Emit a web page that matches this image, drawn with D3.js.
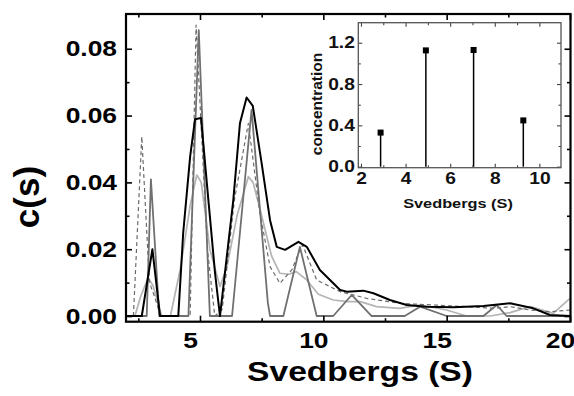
<!DOCTYPE html>
<html><head><meta charset="utf-8">
<script src="https://cdn.jsdelivr.net/npm/d3@7"></script>
<style>
html,body{margin:0;padding:0;background:#fff;}
text{font-family:"Liberation Sans",Arial,sans-serif;font-weight:bold;}
</style></head>
<body>
<svg id="c" width="574" height="396"></svg>
<script>
// ---------- data ----------
const xTicks = [5, 10, 15, 20];
const xMinor = [2.5, 7.5, 12.5, 17.5];
const yTicks = [0, 0.02, 0.04, 0.06, 0.08];
const yMinor = [0.01, 0.03, 0.05, 0.07];

const sBlack = [2.0,2.64,3.07,3.38,4.12,4.32,4.6,4.8,5.04,5.34,5.61,5.81,6.35,6.62,6.89,7.14,7.5,7.84,8.11,8.45,8.99,9.33,9.86,10.68,10.95,11.62,12.03,12.7,13.38,14.19,15.27,16.49,17.57,18.51,19.19,20.0];
const cBlack = [0,0,0.020,0,0,0.025,0.0477,0.0589,0.0593,0.0347,0.0128,0,0.0347,0.0577,0.0654,0.0629,0.0457,0.0287,0.0207,0.0198,0.0222,0.0207,0.0138,0.0078,0.0073,0.0076,0.0068,0.0048,0.0033,0.0028,0.0026,0.0030,0.0038,0.0023,0.0003,0];

const sDark = [2.0,2.84,3.01,3.35,4.53,4.95,5.4,6.3,7.09,7.75,7.84,8.38,9.05,9.73,10.4,11.15,11.96,13.3,13.92,15.0,16.49,17.03,17.43,20.0];
const cDark = [0,0,0.0409,0,0,0.0856,0,0,0.0617,0.004,0,0,0.0207,0,0,0.0063,0,0,0.0028,0,0,0.0033,0,0];

const sLight = [2.36,2.6,2.9,3.1,3.45,3.8,4.2,4.6,4.87,5.05,5.4,5.81,6.1,6.5,6.96,7.15,7.5,7.9,8.24,8.6,8.9,9.3,9.8,10.4,11.0,11.5,12.16,13.1,13.9,15.0,15.8,16.76,17.57,18.38,19.32,20.0];
const cLight = [0,0.006,0.0115,0.009,0,0,0.014,0.033,0.0422,0.040,0.020,0.0088,0.015,0.030,0.0417,0.040,0.030,0.018,0.0128,0.0125,0.0133,0.011,0.0065,0.0048,0.0043,0.0043,0.0028,0.0023,0.0033,0.0018,0,0,0.001,0.0028,0.0008,0.0053];

const sDash = [2.3,2.64,2.95,3.15,3.4,4.6,4.84,5.3,5.6,5.9,6.4,6.96,7.43,7.84,8.24,8.72,9.05,9.16,9.73,10.68,11.76,13.1,14.46,15.81,16.89,17.57,18.38,19.19,20.0];
const cDash = [0,0.0537,0.010,0.006,0,0,0.0871,0.020,0,0.002,0.035,0.0577,0.0307,0.0148,0.0098,0.0138,0.0198,0.0213,0.0108,0.0073,0.0053,0.0038,0.0033,0.0028,0.0023,0.0028,0.0018,0.0013,0.0018];

// inset
const insetS = [2.88, 4.91, 7.05, 9.28];
const insetC = [0.33, 1.126, 1.13, 0.448];
const insetXTicks = [2, 4, 6, 8, 10];
const insetXMinor = [3, 5, 7, 9];
const insetYTicks = [0, 0.4, 0.8, 1.2];
const insetYMinor = [0.2, 0.6, 1.0];

// ---------- drawing ----------
const SX = 1.2; // horizontal stretch of the lettering
const svg = d3.select("#c");
const x = d3.scaleLinear().domain([2, 20]).range([126, 570]);
const y = d3.scaleLinear().domain([-0.0017, 0.0904]).range([321.7, 14]);

svg.append("defs").append("clipPath").attr("id", "clipMain")
  .append("rect").attr("x", 126).attr("y", 14).attr("width", 445).attr("height", 307.7);

const series = [
  {s: sLight, c: cLight, color: "#b4b4b4", w: 1.7, dash: null},
  {s: sDash, c: cDash, color: "#6a6a6a", w: 1.2, dash: "4,3"},
  {s: sDark, c: cDark, color: "#707070", w: 1.8, dash: null},
  {s: sBlack, c: cBlack, color: "#000", w: 2.0, dash: null}
];
const line = d3.line().x(d => x(d[0])).y(d => y(d[1]));
const lg = svg.append("g").attr("clip-path", "url(#clipMain)");
series.forEach(se => {
  lg.append("path")
    .datum(se.s.map((v, i) => [v, se.c[i]]))
    .attr("d", line)
    .attr("fill", "none")
    .attr("stroke", se.color)
    .attr("stroke-width", se.w)
    .attr("stroke-linejoin", "round")
    .attr("stroke-dasharray", se.dash);
});

function tickAxis(axisFn, scale, vals, size, trans, labels, pad, col, sw) {
  const a = axisFn(scale).tickValues(vals).tickSize(size).tickPadding(pad || 3);
  if (!labels) a.tickFormat("");
  const g = svg.append("g").attr("transform", trans).call(a);
  g.select(".domain").remove();
  g.selectAll("line").attr("stroke", col || "#000").attr("stroke-width", sw || 1.6);
  return g;
}
// main axes
const gb = tickAxis(d3.axisBottom, x, xTicks, -6, "translate(0,321.7)", true, 11);
gb.selectAll("text").attr("font-size", 22).attr("fill", "#000")
  .attr("font-family", "Liberation Sans").attr("font-weight", "bold")
  .attr("dx", -10 / SX).attr("transform", `scale(${SX},1)`);
tickAxis(d3.axisBottom, x, xMinor, -3.5, "translate(0,321.7)", false);
tickAxis(d3.axisTop, x, xTicks, -6, "translate(0,14)", false);
tickAxis(d3.axisTop, x, xMinor, -3.5, "translate(0,14)", false);
const gl = tickAxis(d3.axisLeft, y, yTicks, -6, "translate(126,0)", true, 9);
gl.selectAll("text").attr("font-size", 22).attr("fill", "#000")
  .attr("font-family", "Liberation Sans").attr("font-weight", "bold")
  .attr("x", -9 / SX).attr("transform", `scale(${SX},1)`)
  .text(d => d3.format(".2f")(d));
tickAxis(d3.axisLeft, y, yMinor, -3.5, "translate(126,0)", false);
tickAxis(d3.axisRight, y, yTicks, -6, "translate(570.5,0)", false);
tickAxis(d3.axisRight, y, yMinor, -3.5, "translate(570.5,0)", false);

svg.append("rect").attr("x", 126).attr("y", 14).attr("width", 444.5).attr("height", 307.7)
  .attr("fill", "none").attr("stroke", "#000").attr("stroke-width", 2.2);

svg.append("text").attr("transform", `translate(360,381) scale(${SX},1)`).attr("text-anchor", "middle")
  .attr("font-size", 28).attr("fill", "#000").text("Svedbergs (S)");
svg.append("text").attr("transform", "translate(39,197) rotate(-90)").attr("text-anchor", "middle")
  .attr("font-size", 35).attr("fill", "#000").text("c(s)");

// ---------- inset ----------
const ix = d3.scaleLinear().domain([1.88, 10.97]).range([358.3, 561]);
const iy = d3.scaleLinear().domain([-0.01, 1.394]).range([167.7, 22.7]);
svg.append("rect").attr("x", 358.3).attr("y", 22.7).attr("width", 202.7).attr("height", 145)
  .attr("fill", "#fff");

const ib = tickAxis(d3.axisBottom, ix, insetXTicks, -4, "translate(0,167.7)", true, 5, "#444", 1.1);
ib.selectAll("text").attr("font-size", 16).attr("fill", "#111")
  .attr("font-family", "Liberation Sans").attr("font-weight", "bold")
  .attr("transform", `scale(${SX},1)`);
tickAxis(d3.axisBottom, ix, insetXMinor, -2.5, "translate(0,167.7)", false, 0, "#444", 1.1);
tickAxis(d3.axisTop, ix, insetXTicks, -4, "translate(0,22.7)", false, 0, "#444", 1.1);
tickAxis(d3.axisTop, ix, insetXMinor, -2.5, "translate(0,22.7)", false, 0, "#444", 1.1);
const il = tickAxis(d3.axisLeft, iy, insetYTicks, -4, "translate(358.3,0)", true, 3.5, "#444", 1.1);
il.selectAll("text").attr("font-size", 16).attr("fill", "#111")
  .attr("font-family", "Liberation Sans").attr("font-weight", "bold")
  .attr("x", -3.5 / SX).attr("transform", `scale(${SX},1)`)
  .text(d => d3.format(".1f")(d));
tickAxis(d3.axisLeft, iy, insetYMinor, -2.5, "translate(358.3,0)", false, 0, "#444", 1.1);
tickAxis(d3.axisRight, iy, insetYTicks, -4, "translate(561,0)", false, 0, "#444", 1.1);
tickAxis(d3.axisRight, iy, insetYMinor, -2.5, "translate(561,0)", false, 0, "#444", 1.1);

const stems = insetS.map((v, i) => [v, insetC[i]]);
svg.append("g").selectAll("line").data(stems).join("line")
  .attr("x1", d => ix(d[0])).attr("x2", d => ix(d[0]))
  .attr("y1", iy(0)).attr("y2", d => iy(d[1]))
  .attr("stroke", "#000").attr("stroke-width", 1.5);
svg.append("g").selectAll("rect").data(stems).join("rect")
  .attr("x", d => ix(d[0]) - 3).attr("y", d => iy(d[1]) - 3)
  .attr("width", 6).attr("height", 6).attr("fill", "#000");

svg.append("rect").attr("x", 358.3).attr("y", 22.7).attr("width", 202.7).attr("height", 145)
  .attr("fill", "none").attr("stroke", "#555").attr("stroke-width", 1.3);

svg.append("text").attr("transform", `translate(458,208) scale(${SX},1)`).attr("text-anchor", "middle")
  .attr("font-size", 13.6).attr("fill", "#111").text("Svedbergs (S)");
svg.append("text").attr("transform", "translate(322,104) rotate(-90)").attr("text-anchor", "middle")
  .attr("font-size", 15.5).attr("fill", "#111").text("concentration");
</script>
</body></html>
